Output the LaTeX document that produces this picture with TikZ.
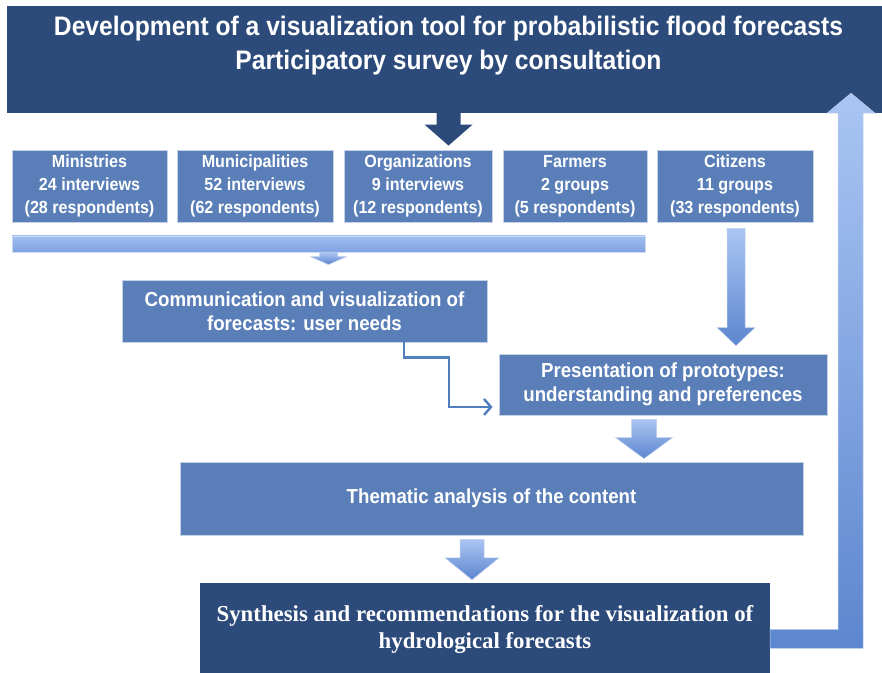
\documentclass[tikz,border=0pt]{standalone}
\usepackage{fontspec}
\newfontfamily\boxfont{Liberation Sans}[FakeStretch=0.92]
\newfontfamily\synthfont{Liberation Serif}
\usetikzlibrary{arrows.meta}
\usetikzlibrary{calc}

\definecolor{navy}{RGB}{44,74,122}
\definecolor{boxblue}{RGB}{90,127,184}
\definecolor{arrowlight}{RGB}{170,197,243}
\definecolor{arrowmid}{RGB}{92,134,207}
\definecolor{barlight}{RGB}{160,189,240}
\definecolor{bardark}{RGB}{128,162,226}
\definecolor{linkblue}{RGB}{80,126,190}

% block arrow pointing down: style, from, to, half shaft, half head, head length
\newcommand{\blockdown}[6]{%
  \path[#1] let \p1=(#2), \p2=(#3) in
    (\x1-#4,\y1) -- (\x1-#4,\y2+#6) -- (\x1-#5,\y2+#6) -- (\x1,\y2)
    -- (\x1+#5,\y2+#6) -- (\x1+#4,\y2+#6) -- (\x1+#4,\y1) -- cycle;}

\begin{document}
\begin{tikzpicture}[>=latex,line join=miter,
  box/.style={draw=white!65!boxblue,line width=0.8bp,fill=boxblue,text=white,align=center,inner sep=0pt},
  groupbox/.style={box,minimum height=72bp,font={\boxfont\bfseries\fontsize{17.5bp}{23bp}\selectfont}},
  stepbox/.style={box,font={\boxfont\bfseries\fontsize{20.3bp}{24bp}\selectfont}},
  navybox/.style={fill=navy,draw=none,inner sep=0pt},
  titletext/.style={anchor=north,inner sep=0pt,text=white,align=center,
    font={\boxfont\bfseries\fontsize{26.8bp}{34bp}\selectfont}},
  darkarrow/.style={fill=navy},
  lightarrow/.style={top color=arrowlight,bottom color=arrowmid,draw=white!60!arrowmid,line width=0.5bp},
  barstyle/.style={top color=barlight,bottom color=bardark,draw=white!60!bardark,line width=0.5bp},
  elbow/.style={draw=linkblue,line width=2.4bp,-{Straight Barb[length=7bp,width=16bp]}},
]
\useasboundingbox (0bp,0bp) rectangle (882bp,673bp);
%%
\node (node_title) at (448.5bp,613.5bp) [navybox,minimum width=883bp,minimum height=107bp,
  label={[titletext,yshift=-10bp]north:{Development of a visualization tool for probabilistic flood forecasts\\Participatory survey by consultation}}] {};
  \node (node_min) at (89.5bp,487bp) [groupbox,minimum width=155bp] {Ministries\\24 interviews\\(28 respondents)};
  \node (node_mun) at (255bp,487bp) [groupbox,minimum width=156bp] {Municipalities\\52 interviews\\(62 respondents)};
  \node (node_org) at (418bp,487bp) [groupbox,minimum width=148bp] {Organizations\\9 interviews\\(12 respondents)};
  \node (node_farm) at (575bp,487bp) [groupbox,minimum width=144bp] {Farmers\\2 groups\\(5 respondents)};
  \node (node_cit) at (735bp,487bp) [groupbox,minimum width=156bp] {Citizens\\11 groups\\(33 respondents)};
  \node (node_bar) at (328.5bp,429bp) [barstyle,minimum width=633bp,minimum height=16bp,inner sep=0pt] {};
  \node (node_comm) at (304.5bp,362bp) [stepbox,minimum width=365bp,minimum height=62bp] {Communication and visualization of\\forecasts: user needs};
  \node (node_pres) at (663bp,288.5bp) [stepbox,minimum width=328bp,minimum height=61bp] {Presentation of prototypes:\\understanding and preferences};
  \node (node_them) at (491.5bp,174.5bp) [stepbox,minimum width=623bp,minimum height=73bp] {Thematic analysis of the content};
  \node (node_synth) at (485bp,43.5bp) [navybox,minimum width=570bp,minimum height=93bp,text=white,align=center,
    font={\synthfont\bfseries\fontsize{22.8bp}{27bp}\selectfont}] {Synthesis and recommendations for the visualization of\\hydrological forecasts};
%
  \blockdown{darkarrow}{node_title.south}{$(node_org.north)+(0,4bp)$}{12bp}{24bp}{21bp}
  \blockdown{lightarrow}{node_bar.south}{$(node_comm.north)+(0,15bp)$}{9bp}{18bp}{8bp}
  \blockdown{lightarrow}{$(node_cit.south)+(1bp,-6bp)$}{$(node_pres.north)+(0,8bp)$}{9bp}{19bp}{18bp}
  \blockdown{lightarrow}{$(node_pres.south)+(-19bp,-4bp)$}{$(node_them.north)+(0,3bp)$}{12.5bp}{28.5bp}{21bp}
  \blockdown{lightarrow}{$(node_them.south)+(-19.5bp,-4bp)$}{$(node_synth.north)+(0,3bp)$}{12bp}{27bp}{22bp}
  \draw [elbow] ($(node_comm.south)+(99.5bp,0)$) |- ++(45bp,-15bp) |- ($(node_pres.west)+(-6bp,-22.5bp)$);
  \path [lightarrow] let \p1=(node_synth.east), \p2=(node_title.south) in
    (\x1,\y1) -- (838bp,\y1) -- (838bp,\y2) -- (827bp,\y2) -- (851bp,\y2+20bp)
    -- (875bp,\y2) -- (863bp,\y2) -- (863bp,\y1-19bp) -- (\x1,\y1-19bp) -- cycle;
%
\end{tikzpicture}
\end{document}
